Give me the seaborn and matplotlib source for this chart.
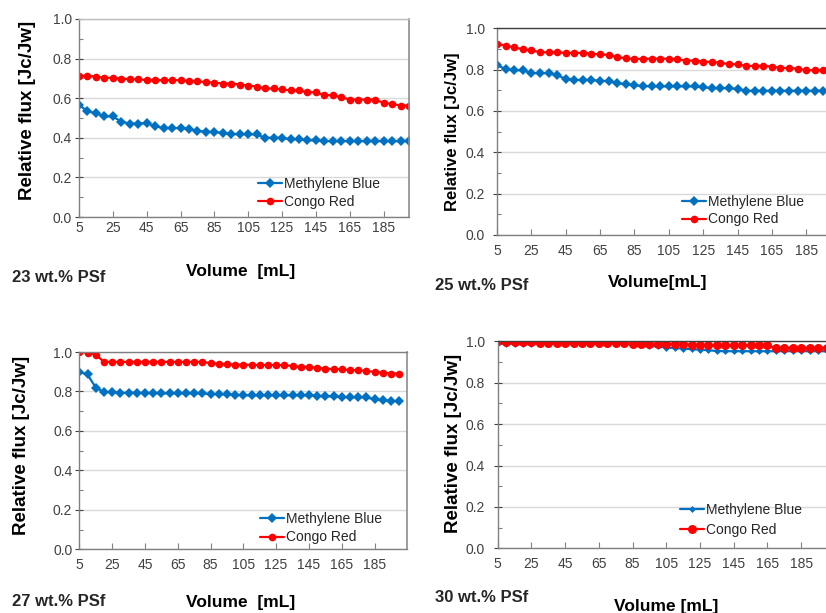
import matplotlib
matplotlib.use("Agg")
import matplotlib.pyplot as plt
import numpy as np
import pandas as pd
import seaborn as sns
from matplotlib.ticker import FixedLocator, MultipleLocator

# ---------------- data ----------------
volume = list(range(5, 201, 5))  # mL, 40 samples

mb_23 = [0.566, 0.534, 0.524, 0.508, 0.508, 0.481, 0.472, 0.472, 0.474, 0.459,
         0.449, 0.449, 0.449, 0.444, 0.435, 0.430, 0.430, 0.424, 0.418, 0.418,
         0.417, 0.417, 0.400, 0.400, 0.400, 0.392, 0.392, 0.387, 0.387, 0.383,
         0.383, 0.383, 0.383, 0.383, 0.383, 0.383, 0.383, 0.383, 0.383, 0.383]
cr_23 = [0.713, 0.713, 0.709, 0.703, 0.703, 0.699, 0.696, 0.696, 0.691, 0.691,
         0.691, 0.691, 0.691, 0.686, 0.686, 0.681, 0.679, 0.674, 0.674, 0.669,
         0.664, 0.659, 0.649, 0.649, 0.644, 0.639, 0.639, 0.630, 0.630, 0.615,
         0.615, 0.605, 0.593, 0.593, 0.593, 0.593, 0.576, 0.571, 0.563, 0.563]

mb_25 = [0.823, 0.802, 0.797, 0.797, 0.783, 0.783, 0.783, 0.772, 0.756, 0.750,
         0.750, 0.750, 0.746, 0.744, 0.734, 0.729, 0.724, 0.721, 0.719, 0.719,
         0.719, 0.719, 0.719, 0.719, 0.715, 0.710, 0.710, 0.710, 0.706, 0.698,
         0.698, 0.698, 0.698, 0.698, 0.698, 0.698, 0.698, 0.698, 0.698, 0.698]
cr_25 = [0.926, 0.916, 0.908, 0.898, 0.894, 0.884, 0.884, 0.884, 0.881, 0.881,
         0.881, 0.877, 0.874, 0.871, 0.861, 0.855, 0.852, 0.852, 0.853, 0.853,
         0.853, 0.850, 0.844, 0.844, 0.839, 0.837, 0.834, 0.826, 0.826, 0.818,
         0.818, 0.818, 0.815, 0.808, 0.808, 0.805, 0.797, 0.797, 0.797, 0.795]

mb_27 = [0.899, 0.886, 0.820, 0.797, 0.797, 0.793, 0.793, 0.793, 0.791, 0.791,
         0.790, 0.790, 0.790, 0.790, 0.790, 0.790, 0.787, 0.786, 0.785, 0.783,
         0.780, 0.780, 0.780, 0.780, 0.780, 0.780, 0.780, 0.780, 0.780, 0.777,
         0.775, 0.775, 0.772, 0.770, 0.770, 0.770, 0.760, 0.755, 0.751, 0.750]
cr_27 = [1.000, 0.997, 0.987, 0.950, 0.950, 0.950, 0.950, 0.950, 0.950, 0.950,
         0.950, 0.950, 0.950, 0.950, 0.950, 0.950, 0.943, 0.940, 0.937, 0.936,
         0.936, 0.935, 0.934, 0.934, 0.934, 0.933, 0.929, 0.924, 0.924, 0.919,
         0.916, 0.913, 0.913, 0.908, 0.908, 0.904, 0.899, 0.896, 0.891, 0.891]

mb_30 = [0.990, 0.988, 0.988, 0.988, 0.988, 0.988, 0.988, 0.988, 0.988, 0.988,
         0.988, 0.988, 0.988, 0.988, 0.988, 0.988, 0.982, 0.980, 0.978, 0.975,
         0.970, 0.967, 0.965, 0.962, 0.960, 0.957, 0.953, 0.952, 0.952, 0.952,
         0.952, 0.952, 0.952, 0.952, 0.952, 0.952, 0.952, 0.952, 0.952, 0.952]
cr_30 = [1.000, 0.995, 0.995, 0.995, 0.995, 0.990, 0.990, 0.990, 0.990, 0.990,
         0.990, 0.990, 0.990, 0.990, 0.990, 0.990, 0.988, 0.988, 0.988, 0.987,
         0.987, 0.987, 0.987, 0.984, 0.984, 0.980, 0.980, 0.980, 0.980, 0.980,
         0.980, 0.980, 0.980, 0.969, 0.969, 0.969, 0.969, 0.969, 0.969, 0.969]

series_names = ["Methylene Blue", "Congo Red"]
panel_tags = ["23 wt.% PSf", "25 wt.% PSf", "27 wt.% PSf", "30 wt.% PSf"]
x_titles = ["Volume  [mL]", "Volume[mL]", "Volume  [mL]", "Volume [mL]"]
y_title = "Relative flux [Jc/Jw]"
xtick_values = list(range(5, 186, 20))
ytick_values = [0.0, 0.2, 0.4, 0.6, 0.8, 1.0]

panels_mb = [mb_23, mb_25, mb_27, mb_30]
panels_cr = [cr_23, cr_25, cr_27, cr_30]

# ---------------- style ----------------
sns.set_theme(style="white")
plt.rcParams["font.family"] = ["Liberation Sans", "DejaVu Sans"]

BLUE = "#0070C0"
RED = "#FF0000"
W, H = 826, 613

fig = plt.figure(figsize=(W / 100, H / 100), dpi=100)

# layout in pixels: left, right, top, bottom, xmax
layout = [
    dict(l=79, r=409, t=19, b=217, xmax=200, topc="#bfbfbf", ylab=(28, 110), ylfs=13.5,
         xlab=(241, 271), tag=(12, 277), leg=(258, 177), lsp=0.28, xpad=3, ypad=2,
         mb_ms=5, cr_ms=5.5),
    dict(l=497, r=832, t=28.3, b=235, xmax=200, topc="#404040", ylab=(453, 132), ylfs=12,
         xlab=(658, 283), tag=(435, 285), leg=(682, 194.5), lsp=0.28, xpad=6.5, ypad=5.5,
         mb_ms=5, cr_ms=5.5),
    dict(l=79.3, r=407.3, t=352, b=549.3, xmax=205, topc="#808080", ylab=(22, 445), ylfs=13.5,
         xlab=(241, 603), tag=(12, 601), leg=(260, 511.5), lsp=0.35, xpad=6.5, ypad=2,
         mb_ms=5, cr_ms=5.5),
    dict(l=497.7, r=826.5, t=341.3, b=548.3, xmax=200, topc="#404040", ylab=(454, 443), ylfs=13.5,
         xlab=(666, 606), tag=(435, 597), leg=(680, 503), lsp=0.45, xpad=6, ypad=6,
         mb_ms=3.5, cr_ms=6.5),
]

for i, cfg in enumerate(layout):
    ax = fig.add_axes([cfg["l"] / W, 1 - cfg["b"] / H,
                       (cfg["r"] - cfg["l"]) / W, (cfg["b"] - cfg["t"]) / H])
    df = pd.DataFrame({"volume": volume, "mb": panels_mb[i], "cr": panels_cr[i]})
    sns.lineplot(data=df, x="volume", y="mb", ax=ax, color=BLUE, lw=1.6,
                 marker="D", ms=cfg["mb_ms"], mec=BLUE, mew=0, label=series_names[0])
    sns.lineplot(data=df, x="volume", y="cr", ax=ax, color=RED, lw=1.6,
                 marker="o", ms=cfg["cr_ms"], mec=RED, mew=0, label=series_names[1])

    ax.set_xlim(5, cfg["xmax"])
    ax.set_ylim(0, 1.0)
    ax.xaxis.set_major_locator(FixedLocator(xtick_values))
    ax.set_xticklabels([str(v) for v in xtick_values])
    ax.yaxis.set_major_locator(FixedLocator(ytick_values))
    ax.yaxis.set_minor_locator(MultipleLocator(0.1))
    ax.set_yticklabels([f"{v:.1f}" for v in ytick_values])
    ax.grid(axis="y", which="major", color="#d9d9d9", lw=1)
    ax.set_axisbelow(True)

    ax.tick_params(axis="x", which="major", direction="in", length=4, width=0.8,
                   color="#808080", labelsize=10, labelcolor="#404040", pad=cfg["xpad"],
                   bottom=True)
    ax.tick_params(axis="y", which="major", direction="inout", length=6, width=0.8,
                   color="#404040", labelsize=10, labelcolor="#404040", pad=cfg["ypad"],
                   left=True)
    ax.tick_params(axis="y", which="minor", direction="in", length=3, width=0.8,
                   color="#808080", left=True)

    for side in ["left", "bottom"]:
        ax.spines[side].set_color("#808080")
        ax.spines[side].set_linewidth(1.0)
    ax.spines["right"].set_color("#8c8c8c")
    ax.spines["right"].set_linewidth(1.2)
    ax.spines["top"].set_color(cfg["topc"])
    ax.spines["top"].set_linewidth(1.0)

    # axis titles
    ax.set_ylabel(y_title, fontsize=cfg["ylfs"], fontweight="bold", color="black")
    ax.yaxis.set_label_coords((cfg["ylab"][0] - cfg["l"]) / (cfg["r"] - cfg["l"]),
                              (cfg["b"] - cfg["ylab"][1]) / (cfg["b"] - cfg["t"]))
    ax.yaxis.label.set_verticalalignment("center")
    ax.set_xlabel(x_titles[i], fontsize=12.5, fontweight="bold", color="black")
    ax.xaxis.set_label_coords((cfg["xlab"][0] - cfg["l"]) / (cfg["r"] - cfg["l"]),
                              (cfg["b"] - cfg["xlab"][1]) / (cfg["b"] - cfg["t"]))
    ax.xaxis.label.set_verticalalignment("center")

    fig.text(cfg["tag"][0] / W, 1 - cfg["tag"][1] / H, panel_tags[i],
             fontsize=12, fontweight="bold", ha="left", va="center")

    ax.legend(loc="upper left", bbox_to_anchor=(cfg["leg"][0] / W, 1 - cfg["leg"][1] / H),
              bbox_transform=fig.transFigure, frameon=False, fontsize=10,
              handlelength=1.75, handletextpad=0.15, borderpad=0, borderaxespad=0,
              labelspacing=cfg["lsp"], labelcolor="#262626")

fig.savefig("out.png", dpi=100)
